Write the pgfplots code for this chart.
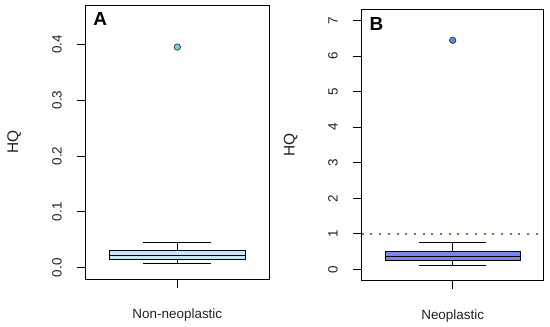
\documentclass[border=0pt]{standalone}
\usepackage{fontspec}
\setmainfont{Liberation Sans}
\usepackage{pgfplots}
\pgfplotsset{compat=1.18}
\usepgfplotslibrary{statistics}
\definecolor{boxA}{HTML}{C8E6F5}
\definecolor{outA}{HTML}{6FD3E3}
\definecolor{boxB}{HTML}{7B84E8}
\definecolor{outB}{HTML}{5B8EE0}
\definecolor{refl}{HTML}{B0603A}
\definecolor{txt}{HTML}{222222}
\pgfplotsset{
  common/.style={
    scale only axis,
    xmin=0.46, xmax=1.54,
    xtick={1},
    tick align=outside,
    xtick pos=bottom, ytick pos=left,
    major tick length=9bp,
    tick style={line width=0.8bp, black},
    axis line style={line width=0.9bp, black},
    /pgf/number format/assume math mode=true,
    tick label style={font=\fontsize{13.5}{16}\selectfont, text=txt},
    yticklabel style={rotate=90, anchor=base, yshift=15bp},
    xticklabel style={anchor=base, yshift=-30bp},
    label style={font=\fontsize{15.5}{18}\selectfont, text=txt},
    boxplot/draw direction=y,
    boxplot/box extend=0.8,
    boxplot/whisker extend=0.4,
  }
}
\begin{document}
\begin{tikzpicture}
\useasboundingbox (0,0) rectangle (550bp,327bp);
% Panel A
\begin{axis}[common,
  at={(85.7bp,48bp)}, anchor=south west,
  width=183.3bp, height=273.3bp,
  ymin=-0.0202, ymax=0.469,
  ytick={0,0.1,0.2,0.3,0.4},
  yticklabels={0.0,0.1,0.2,0.3,0.4},
  xticklabels={Non-neoplastic},
  ylabel={HQ},
  ylabel style={at={([xshift=-71.5bp]axis description cs:0,0.5)}, anchor=center},
]
\addplot+[boxplot prepared={
    draw position=1,
    median=0.0222, upper quartile=0.0304, lower quartile=0.0143,
    upper whisker=0.046, lower whisker=0.0072},
  draw=black, fill=boxA, line width=0.9bp, mark=none, solid]
  coordinates {};
\addplot[only marks, mark=*, mark size=3.2bp, mark options={fill=outA, draw=black!80, line width=0.7bp}]
  coordinates {(1,0.395)};
\node[anchor=north west, inner sep=0pt, font=\fontsize{19}{20}\bfseries\selectfont]
  at ([xshift=7.6bp,yshift=-7bp]rel axis cs:0,1) {A};
\end{axis}
% Panel B
\begin{axis}[common,
  at={(361.7bp,47bp)}, anchor=south west,
  width=182bp, height=270.7bp,
  ymin=-0.30, ymax=7.32,
  ytick={0,1,2,3,4,5,6,7},
  xticklabels={Neoplastic},
  ylabel={HQ},
  ylabel style={at={([xshift=-70.9bp]axis description cs:0,0.5)}, anchor=center},
]
\addplot[refl, line width=2bp, dash pattern=on 2bp off 6.7bp] coordinates {(0.46,1) (1.54,1)};
\addplot+[boxplot prepared={
    draw position=1,
    median=0.374, upper quartile=0.507, lower quartile=0.242,
    upper whisker=0.76, lower whisker=0.121},
  draw=black, fill=boxB, line width=0.9bp, mark=none, solid]
  coordinates {};
\addplot[only marks, mark=*, mark size=3.2bp, mark options={fill=outB, draw=black!80, line width=0.7bp}]
  coordinates {(1,6.447)};
\node[anchor=north west, inner sep=0pt, font=\fontsize{19}{20}\bfseries\selectfont]
  at ([xshift=7.6bp,yshift=-8bp]rel axis cs:0,1) {B};
\end{axis}
\end{tikzpicture}
\end{document}
